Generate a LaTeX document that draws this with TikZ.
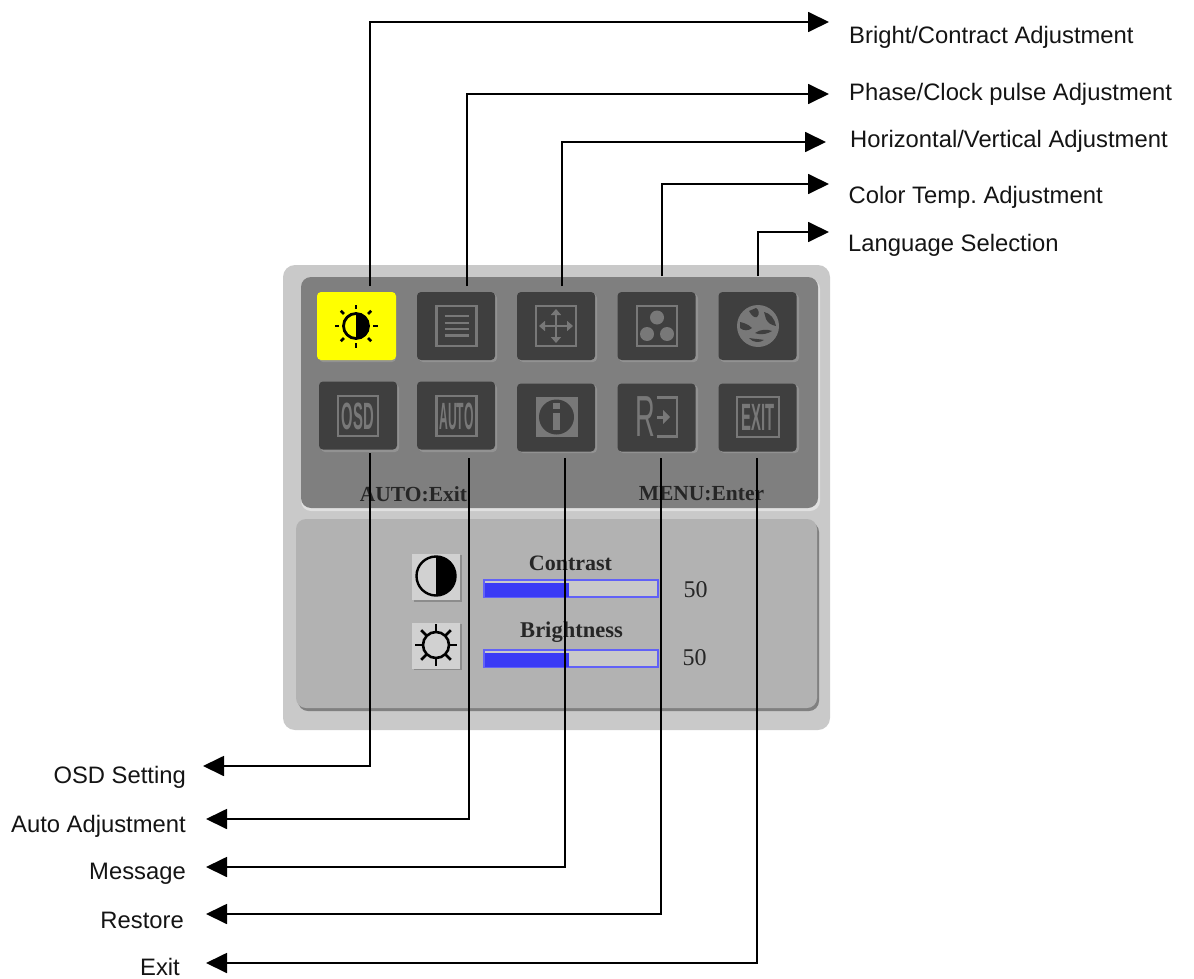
\documentclass[tikz,border=0pt]{standalone}
\usepackage{fontspec}
\setmainfont{Liberation Sans}
\newfontfamily\osdfont{Liberation Serif}
\usetikzlibrary{arrows.meta}
\frenchspacing
\definecolor{outerc}{HTML}{C9C9C9}
\definecolor{topc}{HTML}{7F7F7F}
\definecolor{lowc}{HTML}{B2B2B2}
\definecolor{iconc}{HTML}{3F3F3F}
\definecolor{glyphc}{HTML}{787878}
\definecolor{barc}{HTML}{3A3AF5}
\definecolor{pureyellow}{HTML}{FFFF00}
\tikzset{
  x=1pt,y=-1pt,
  lab/.style={font=\fontsize{23.8}{26}\selectfont,inner sep=0pt,text=black!92},
  leftlab/.style={lab,anchor=base east},
  rightlab/.style={lab,anchor=base west},
  link/.style={draw=black,line width=1.8pt,-{Triangle[length=21pt,width=20pt]}},
  iconbox/.style={draw=none,fill=iconc,rounded corners=4pt,minimum width=78pt,minimum height=68pt,inner sep=0pt},
  iconshade/.style={fill=topc!85!white,rounded corners=4pt},
  osdtxt/.style={font=\osdfont\bfseries\fontsize{21.5}{24}\selectfont,text=black!85,inner sep=0pt,anchor=base},
  glyphline/.style={draw=glyphc,line width=2.4pt},
  glyphtxt/.style={text=glyphc,inner sep=0pt,font=\bfseries\fontsize{38}{38}\selectfont},
  valtxt/.style={font=\osdfont\fontsize{24}{26}\selectfont,text=black!85,inner sep=0pt},
  swatch/.style={fill=outerc!85!white,minimum width=48pt,minimum height=46pt,inner sep=0pt,draw=none},
  barout/.style={draw=barc!80!white,line width=1.4pt,fill=lowc!70!white},
  barfill/.style={fill=barc,draw=none}
}
\begin{document}
\begin{tikzpicture}
\useasboundingbox (0,0) rectangle (1194,979);
% panels
\fill[outerc,rounded corners=12pt] (283,265) rectangle (830,730);
\fill[black!12,rounded corners=10pt] (301,279) rectangle (820,511);
\fill[topc,rounded corners=10pt] (301,277) rectangle (818,508);
\fill[black!50,rounded corners=10pt] (298,522) rectangle (819,711);
\fill[lowc,rounded corners=10pt] (296,519) rectangle (817,708);
% icon shadows
\foreach \x/\y/\w in {319/294/396, 419/294/497, 519/294/597, 619/294/698, 720/294/799,
                      321/384/399, 419/384/497, 519/385/597, 619/385/698, 720/385/799}
  \fill[iconshade] (\x,\y) rectangle (\w,{\y+68});
% icons row 1
\node[iconbox,fill=pureyellow,minimum width=79pt] (i1) at (356.5,326) {};
\node[iconbox] (i2) at (456,326) {};
\node[iconbox] (i3) at (556,326) {};
\node[iconbox] (i4) at (656.5,326) {};
\node[iconbox] (i5) at (757.5,326) {};
% icons row 2
\node[iconbox] (j1) at (358,415.5) {};
\node[iconbox] (j2) at (456,415.5) {};
\node[iconbox] (j3) at (556,417.5) {};
\node[iconbox] (j4) at (656.5,417.5) {};
\node[iconbox] (j5) at (757.5,417.5) {};
% sun icon
\begin{scope}[shift={(356,326)}]
  \draw[black,line width=2.8pt] (0,0) circle (12.5);
  \fill[black] (0,-13) arc (-90:90:13) -- cycle;
  \foreach \a in {0,45,...,315}
    \draw[black,line width=2.8pt] (\a:17) -- (\a:21.5);
\end{scope}
% list icon
\begin{scope}[shift={(456.5,326)}]
  \draw[glyphline] (-20,-20) rectangle (20,20);
  \foreach \y in {-10,-3.3,3,9.5}
    \draw[glyphline] (-12,\y) -- (12,\y);
\end{scope}
% move icon
\begin{scope}[shift={(556,326)}]
  \draw[glyphline] (-20,-20) rectangle (20,20);
  \draw[glyphline,{Triangle[length=6pt,width=10pt]}-{Triangle[length=6pt,width=10pt]}] (-17,0) -- (17,0);
  \draw[glyphline,{Triangle[length=6pt,width=10pt]}-{Triangle[length=6pt,width=10pt]}] (0,-17) -- (0,17);
\end{scope}
% colour icon
\begin{scope}[shift={(657,326)}]
  \draw[glyphline] (-20,-20) rectangle (20,20);
  \fill[glyphc] (0,-8.5) circle (7) (-10,8) circle (7) (10,8) circle (7);
\end{scope}
% globe icon
\begin{scope}[shift={(758,326)}]
  \fill[glyphc] (0,0) circle (21);
  \fill[iconc] (-9,-15) .. controls (-6,-10) and (-4,-8) .. (-1,-9) .. controls (2,-12) and (1,-16) .. (-2,-18) -- cycle;
  \fill[iconc] (6,-14) .. controls (12,-13) and (17,-7) .. (18,0) .. controls (13,-1) and (10,-3) .. (8,-7) -- cycle;
  \fill[iconc] (-18,-4) .. controls (-14,-3) and (-10,-2) .. (-6,2) .. controls (-9,5) and (-15,5) .. (-18,2) -- cycle;
  \fill[iconc] (-3,7) .. controls (3,3) and (9,3) .. (14,5) .. controls (11,7) and (4,10) .. (-3,7);
  \fill[iconc] (-9,12) .. controls (-4,13) and (2,13) .. (6,14) .. controls (2,17) and (-5,17) .. (-9,12);
\end{scope}
% OSD icon
\begin{scope}[shift={(358,416)}]
  \draw[glyphline] (-20,-20) rectangle (20,20);
  \node[glyphtxt,xscale=.39] (osdglyph) at (0,0) {OSD};
\end{scope}
% AUTO icon
\begin{scope}[shift={(456.5,416)}]
  \draw[glyphline] (-20,-20) rectangle (20,20);
  \node[glyphtxt,xscale=.32] (autoglyph) at (0,0) {AUTO};
\end{scope}
% info icon
\begin{scope}[shift={(556.5,417)}]
  \fill[glyphc] (-21,-20) rectangle (21,20);
  \fill[iconc] (0,0) circle (17.5);
  \fill[glyphc] (-3.5,-14) rectangle (3.5,-8);
  \fill[glyphc] (-3.5,-4) rectangle (3.5,13);
\end{scope}
% restore icon
\begin{scope}[shift={(657,417)}]
  \node[glyphtxt,font=\fontsize{58}{58}\selectfont,xscale=.47] (rglyph) at (-12,0) {R};
  \draw[glyphline] (0,-19.5) -- (20,-19.5) -- (20,19.5) -- (0,19.5);
  \draw[glyphline,line width=3pt,-{Triangle[length=7pt,width=14pt]}] (0,0) -- (13,0);
\end{scope}
% exit icon
\begin{scope}[shift={(758,417)}]
  \draw[glyphline] (-21,-20) rectangle (21,20);
  \node[glyphtxt,xscale=.39] (exitglyph) at (0,0) {EXIT};
\end{scope}
% OSD captions
\node[osdtxt] (autoexit) at (413.5,501) {AUTO:Exit};
\node[osdtxt] (menuenter) at (701.5,500.5) {MENU:Enter};
% lower panel
\fill[black!45] (414,555) rectangle (462,601.5);
\node[swatch] (cs) at (436,576.5) {};
\begin{scope}[shift={(436,576)}]
  \draw[black,line width=2.4pt] (0,0) circle (19.5);
  \fill[black] (0,-20) arc (-90:90:20) -- cycle;
\end{scope}
\fill[black!45] (414,624) rectangle (462,670);
\node[swatch] (bs) at (436,645.5) {};
\begin{scope}[shift={(436,645)}]
  \draw[black,line width=2.6pt] (0,0) circle (13);
  \foreach \a in {0,45,...,315}
    \draw[black,line width=2.6pt] (\a:13) -- (\a:21);
\end{scope}
\node[osdtxt,font=\osdfont\bfseries\fontsize{22}{24}\selectfont] (contrast) at (570.5,570) {Contrast};
\node[osdtxt,font=\osdfont\bfseries\fontsize{22.5}{24}\selectfont] (brightness) at (571.5,637) {Brightness};
\draw[barout] (484,580) rectangle (658,597);
\fill[barfill] (485,583) rectangle (569,597);
\draw[barout] (484,650) rectangle (658,667);
\fill[barfill] (485,653) rectangle (569,667);
\node[valtxt] (v1) at (695.5,590) {50};
\node[valtxt] (v2) at (694.5,658) {50};
% labels
\node[rightlab] (t1) at (849,44) {Bright/Contract Adjustment};
\node[rightlab] (t2) at (849,101) {Phase/Clock pulse Adjustment};
\node[rightlab] (t3) at (850,148) {Horizontal/Vertical Adjustment};
\node[rightlab] (t4) at (848.5,203) {Color Temp. Adjustment};
\node[rightlab] (t5) at (848,251) {Language Selection};
\node[leftlab] (b1) at (186,783) {OSD Setting};
\node[leftlab] (b2) at (186,832) {Auto Adjustment};
\node[leftlab] (b3) at (186,879.5) {Message};
\node[leftlab] (b4) at (184,928) {Restore};
\node[leftlab] (b5) at (180,975) {Exit};
% connector ends
\coordinate (s1) at (370,286);
\coordinate (s2) at (467,286);
\coordinate (s3) at (562,286);
\coordinate (s4) at (662,276);
\coordinate (s5) at (758,276);
\coordinate (e1) at (829,22);
\coordinate (e2) at (829,94);
\coordinate (e3) at (826,142);
\coordinate (e4) at (829,184);
\coordinate (e5) at (829,232);
\coordinate (u1) at (370,453);
\coordinate (u2) at (469,458);
\coordinate (u3) at (565,458);
\coordinate (u4) at (661,458);
\coordinate (u5) at (757,458);
\coordinate (f1) at (203,766);
\coordinate (f2) at (206,819);
\coordinate (f3) at (206,867);
\coordinate (f4) at (206,914);
\coordinate (f5) at (206,963);
\foreach \i in {1,...,5} {
  \draw[link] (s\i) |- (e\i);
  \draw[link] (u\i) |- (f\i);
}
\end{tikzpicture}
\end{document}
